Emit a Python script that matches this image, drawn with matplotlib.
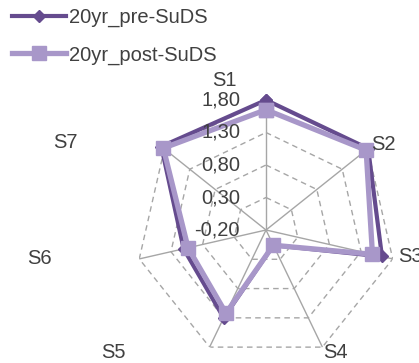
import numpy as np
import matplotlib
matplotlib.use("Agg")
import matplotlib.pyplot as plt
from matplotlib.transforms import offset_copy

plt.rcParams['font.family'] = ['Liberation Sans', 'DejaVu Sans']

categories = ["S1", "S2", "S3", "S4", "S5", "S6", "S7"]
pre_suds = [1.80, 1.81, 1.63, 0.06, 1.30, 1.10, 1.86]
post_suds = [1.65, 1.77, 1.48, 0.06, 1.22, 1.03, 1.82]
series_names = ["20yr_pre-SuDS", "20yr_post-SuDS"]
radial_ticks = [-0.20, 0.30, 0.80, 1.30, 1.80]
radial_labels = ["-0,20", "0,30", "0,80", "1,30", "1,80"]

W, H = 419, 363
fig = plt.figure(figsize=(W / 100, H / 100), dpi=100)
cx, cy, R = 266, 230, 130
ax = fig.add_axes([(cx - R) / W, (H - cy - R) / H, 2 * R / W, 2 * R / H], projection='polar')
ax.set_theta_offset(np.pi / 2)
ax.set_theta_direction(-1)
ax.set_ylim(radial_ticks[0], radial_ticks[-1])
ax.grid(False)
ax.spines['polar'].set_visible(False)
ax.set_xticks([])
ax.set_yticks([])
ax.patch.set_alpha(0)

n = len(categories)
angles = np.arange(n) * 2 * np.pi / n
closed = np.append(angles, angles[0])

grid_col = '#a6a6a6'
# dashed polygon rings
for v in radial_ticks[1:]:
    ax.plot(closed, [v] * (n + 1), color=grid_col, lw=1.0, ls=(0, (4, 3)), zorder=1)
# spokes
for a in angles:
    ax.plot([a, a], [radial_ticks[0], radial_ticks[-1]], color=grid_col, lw=1.0, zorder=1)

pre_col = '#654b8e'
post_col = '#a897c9'
ax.plot(closed, pre_suds + pre_suds[:1], color=pre_col, lw=3.0, marker='D', ms=6,
        label=series_names[0], clip_on=False, zorder=3)
ax.plot(closed, post_suds + post_suds[:1], color=post_col, lw=3.8, marker='s', ms=10,
        label=series_names[1], clip_on=False, zorder=4)

txt_col = '#404040'
fs = 14.5
# radial value labels along the S1 spoke
tr = offset_copy(ax.transData, fig=fig, x=-26 / 100 * 72, y=0, units='points')
for v, lab in zip(radial_ticks, radial_labels):
    ax.text(0, v, lab, transform=tr, ha='right', va='center', fontsize=fs, color=txt_col, zorder=5)

# category labels
label_pos = {
    "S1": (224, 80, 'center'),
    "S2": (383, 144, 'center'),
    "S3": (398, 257, 'left'),
    "S4": (335, 352, 'center'),
    "S5": (113, 352, 'center'),
    "S6": (39, 258, 'center'),
    "S7": (65, 143, 'center'),
}
for c in categories:
    x, y, ha = label_pos[c]
    fig.text(x / W, 1 - y / H, c, ha=ha, va='center', fontsize=fs, color=txt_col)

fig.legend(loc='upper left', bbox_to_anchor=(12 / W, 1 - 8 / H), frameon=False,
           fontsize=fs, handlelength=2.7, handletextpad=0.12, labelspacing=0.9,
           borderpad=0, borderaxespad=0, labelcolor=txt_col)

fig.savefig("out.png", dpi=100)
